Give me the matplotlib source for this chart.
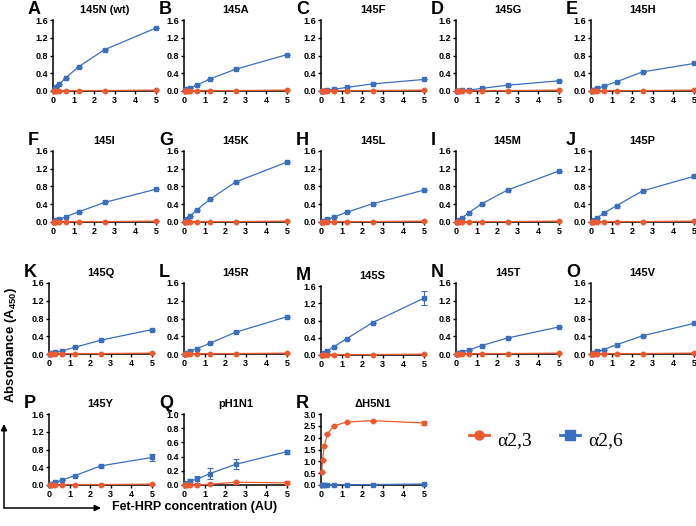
import matplotlib
matplotlib.use("Agg")
import matplotlib.pyplot as plt
from matplotlib.patches import FancyArrowPatch
from matplotlib.lines import Line2D

plt.rcParams['font.family'] = ['Liberation Sans', 'DejaVu Sans']
plt.rcParams['font.weight'] = 'bold'
plt.rcParams['mathtext.fontset'] = 'custom'
plt.rcParams['mathtext.bf'] = 'Liberation Sans:bold'
plt.rcParams['mathtext.rm'] = 'Liberation Sans:bold'
plt.rcParams['mathtext.default'] = 'bf'

RED = '#ee5a2f'
BLUE = '#3a6fbf'

# Fet-HRP concentration (AU), 2-fold dilutions
conc = [0.039, 0.078, 0.156, 0.3125, 0.625, 1.25, 2.5, 5]

letters = list("ABCDEFGHIJKLMNOPQR")
titles = ["145N (wt)", "145A", "145F", "145G", "145H",
          "145I", "145K", "145L", "145M", "145P",
          "145Q", "145R", "145S", "145T", "145V",
          "145Y", "pH1N1", "\u0394H5N1"]

# alpha2,6 binding (blue squares)
a26 = [
    [0.02, 0.05, 0.09, 0.16, 0.30, 0.55, 0.93, 1.42],
    [0.02, 0.03, 0.05, 0.07, 0.13, 0.27, 0.49, 0.82],
    [0.00, 0.01, 0.01, 0.02, 0.04, 0.08, 0.16, 0.26],
    [0.00, 0.01, 0.01, 0.02, 0.02, 0.06, 0.13, 0.23],
    [0.01, 0.02, 0.03, 0.06, 0.11, 0.21, 0.43, 0.62],
    [0.01, 0.02, 0.04, 0.06, 0.12, 0.23, 0.44, 0.74],
    [0.02, 0.04, 0.07, 0.14, 0.27, 0.51, 0.90, 1.35],
    [0.01, 0.02, 0.03, 0.06, 0.11, 0.22, 0.41, 0.72],
    [0.01, 0.03, 0.05, 0.10, 0.21, 0.41, 0.72, 1.15],
    [0.01, 0.03, 0.05, 0.10, 0.20, 0.37, 0.70, 1.03],
    [0.01, 0.02, 0.03, 0.04, 0.07, 0.15, 0.31, 0.55],
    [0.01, 0.02, 0.03, 0.07, 0.12, 0.24, 0.49, 0.84],
    [0.01, 0.03, 0.05, 0.10, 0.19, 0.38, 0.75, 1.32],
    [0.01, 0.02, 0.03, 0.05, 0.09, 0.19, 0.36, 0.61],
    [0.01, 0.02, 0.03, 0.06, 0.10, 0.21, 0.41, 0.69],
    [0.01, 0.02, 0.03, 0.06, 0.11, 0.21, 0.43, 0.62],
    [0.01, 0.02, 0.03, 0.06, 0.08, 0.16, 0.29, 0.47],
    [0.00, 0.01, 0.01, 0.01, 0.01, 0.01, 0.02, 0.04],
]
a26_err = [[0] * 8 for _ in range(18)]
a26_err[9][7] = 0.04
a26_err[12][7] = 0.17
a26_err[15][6] = 0.03
a26_err[15][7] = 0.07
a26_err[16] = [0.0, 0.01, 0.01, 0.02, 0.05, 0.08, 0.07, 0.03]

# alpha2,3 binding (red circles)
a23 = [[0.00, 0.00, 0.00, 0.00, 0.01, 0.01, 0.01, 0.02] for _ in range(17)]
a23.append([0.55, 1.07, 1.63, 2.16, 2.50, 2.66, 2.72, 2.62])
a23[16] = [0.00, 0.00, 0.00, 0.00, 0.00, 0.01, 0.04, 0.03]
a23_err = [[0] * 8 for _ in range(18)]
a23_err[16][6] = 0.02
a23_err[16][7] = 0.02
a23_err[17][7] = 0.07

W, H = 696, 526
fig = plt.figure(figsize=(W / 100, H / 100), dpi=100)


def fx(x):
    return x / W


def fy(y):
    return 1 - y / H


col_left = [53, 184, 321, 456, 591]
row_top = [20, 151, 283, 414]
ax_w, ax_h = 103, 71

for i in range(18):
    r, c = divmod(i, 5)
    left = col_left[c] - (4 if (c == 0 and r >= 2) else 0)
    top = row_top[r]
    h = ax_h
    if i == 12:  # panel M sits a little lower
        top, h = 286, 69
    ax = fig.add_axes([fx(left), fy(top + h), ax_w / W, h / H])
    ax.errorbar(conc, a26[i], yerr=a26_err[i], color=BLUE, marker='s', ms=3.2,
                lw=0.9, elinewidth=0.8, capsize=2, capthick=0.8, clip_on=False, zorder=3)
    ax.errorbar(conc, a23[i], yerr=a23_err[i], color=RED, marker='o', ms=3.2,
                lw=0.9, elinewidth=0.8, capsize=2, capthick=0.8, clip_on=False, zorder=4)
    ax.set_xlim(0, 5)
    ax.set_xticks([0, 1, 2, 3, 4, 5])
    if i == 16:
        ax.set_ylim(0, 1.0)
        ax.set_yticks([0, 0.2, 0.4, 0.6, 0.8, 1.0])
    elif i == 17:
        ax.set_ylim(0, 3.0)
        ax.set_yticks([0, 0.5, 1.0, 1.5, 2.0, 2.5, 3.0])
    else:
        ax.set_ylim(0, 1.6)
        ax.set_yticks([0, 0.4, 0.8, 1.2, 1.6])
    ax.set_yticklabels(["%.1f" % v for v in ax.get_yticks()])
    for s in ['top', 'right']:
        ax.spines[s].set_visible(False)
    for s in ['left', 'bottom']:
        ax.spines[s].set_linewidth(1.1)
    ax.tick_params(labelsize=6.5, length=2.5, width=1.0, pad=1)
    for lab in ax.get_xticklabels() + ax.get_yticklabels():
        lab.set_fontweight('bold')
    ax.set_title(titles[i], fontsize=8, fontweight='bold', pad=5)
    fig.text(fx(left - 25), fy(top - 19), letters[i], fontsize=13,
             fontweight='bold', va='top', ha='left')

# axis labels with arrows
fig.add_artist(FancyArrowPatch((fx(4), fy(508)), (fx(4), fy(424)),
                               transform=fig.transFigure, arrowstyle='-|>',
                               mutation_scale=9, lw=1.1, color='black',
                               shrinkA=0, shrinkB=0))
fig.add_artist(FancyArrowPatch((fx(4), fy(508)), (fx(101), fy(508)),
                               transform=fig.transFigure, arrowstyle='-|>',
                               mutation_scale=9, lw=1.1, color='black',
                               shrinkA=0, shrinkB=0))
fig.text(fx(11), fy(345), r"Absorbance (A$_{450}$)", rotation=90,
         fontsize=9.5, fontweight='bold', ha='center', va='center')
fig.text(fx(112), fy(507), "Fet-HRP concentration (AU)", fontsize=9,
         fontweight='bold', ha='left', va='center')

# legend
for x0, col, mk, lab in [(479, RED, 'o', "\u03b12,3"), (570, BLUE, 's', "\u03b12,6")]:
    fig.add_artist(Line2D([fx(x0 - 10), fx(x0), fx(x0 + 10)], [fy(435)] * 3,
                          transform=fig.transFigure, color=col, lw=2.0,
                          marker=mk, ms=6.5, markevery=[1]))
    fig.text(fx(x0 + 18), fy(441), lab, fontsize=14, family='Liberation Serif',
             fontweight='normal', ha='left', va='center')

fig.savefig('out.png', dpi=100)
